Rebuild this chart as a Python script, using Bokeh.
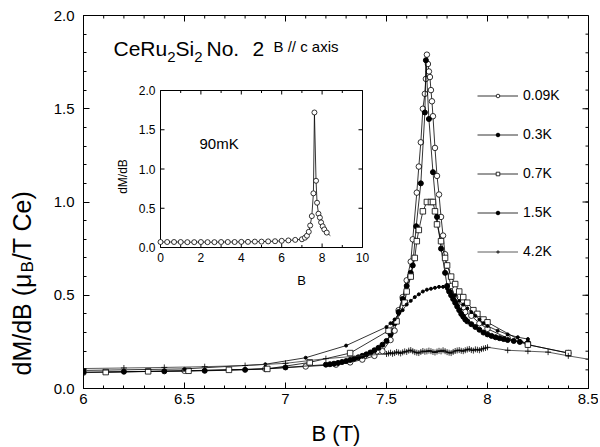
import numpy as np
from bokeh.plotting import figure
from bokeh.layouts import row
from bokeh.models import Range1d, FixedTicker, Label, Legend, LegendItem
from bokeh.core.properties import value
from bokeh.embed import file_html
from bokeh.resources import INLINE

FONT = "Liberation Sans"

# ---------------- data ----------------
B_009 = [6.00, 6.50, 6.90, 7.10, 7.25, 7.32, 7.38, 7.44, 7.48, 7.52, 7.54, 7.56, 7.58, 7.60, 7.62, 7.63,
         7.65, 7.66, 7.67, 7.68, 7.69, 7.695, 7.70, 7.705, 7.71, 7.715, 7.72, 7.725, 7.73, 7.74, 7.75,
         7.76, 7.77, 7.78, 7.79, 7.80, 7.82, 7.84, 7.86, 7.89, 7.92, 7.96, 8.00, 8.10, 8.20, 8.40]
V_009 = [0.085, 0.095, 0.105, 0.118, 0.128, 0.14, 0.155, 0.175, 0.20, 0.26, 0.31, 0.42, 0.49, 0.58, 0.68, 0.80,
         1.05, 1.19, 1.32, 1.50, 1.58, 1.66, 1.79, 1.74, 1.70, 1.67, 1.60, 1.54, 1.46, 1.29, 1.14,
         1.04, 0.92, 0.82, 0.72, 0.63, 0.55, 0.49, 0.44, 0.41, 0.39, 0.35, 0.32, 0.27, 0.235, 0.19]

B_03 = [6.00, 6.20, 6.40, 6.60, 6.80, 7.00, 7.20, 7.22, 7.24, 7.26, 7.28, 7.30, 7.32, 7.34, 7.36, 7.38,
        7.40, 7.42, 7.44, 7.46, 7.48, 7.50, 7.52, 7.54, 7.56, 7.58, 7.60, 7.62, 7.63, 7.647, 7.67,
        7.69, 7.695, 7.71, 7.73, 7.75, 7.77, 7.79, 7.80, 7.81, 7.82, 7.83, 7.84, 7.85, 7.86, 7.87,
        7.88, 7.89, 7.90, 7.92, 7.94, 7.96, 7.98, 8.00, 8.02, 8.04, 8.06, 8.08, 8.10, 8.13, 8.16, 8.20]
V_03 = [0.088, 0.090, 0.092, 0.095, 0.100, 0.113, 0.128, 0.130, 0.133, 0.137, 0.142, 0.147, 0.153, 0.160, 0.167, 0.175,
        0.183, 0.193, 0.205, 0.218, 0.235, 0.255, 0.29, 0.35, 0.41, 0.48, 0.55, 0.62, 0.66, 0.87, 1.10,
        1.48, 1.76, 1.445, 1.16, 0.92, 0.75, 0.62, 0.55, 0.52, 0.50, 0.48, 0.46, 0.44, 0.42, 0.40,
        0.385, 0.37, 0.36, 0.345, 0.33, 0.315, 0.30, 0.29, 0.282, 0.275, 0.27, 0.265, 0.26, 0.255, 0.25, 0.245]

B_07 = [6.11, 6.32, 6.52, 6.72, 6.91, 7.12, 7.32, 7.51, 7.55, 7.59, 7.60, 7.62, 7.64, 7.65, 7.66, 7.68,
        7.70, 7.72, 7.73, 7.74, 7.75, 7.77, 7.79, 7.80, 7.82, 7.84, 7.86, 7.88, 7.90, 7.93, 7.95, 7.98,
        8.00, 8.20, 8.40]
V_07 = [0.088, 0.092, 0.095, 0.10, 0.105, 0.14, 0.19, 0.31, 0.36, 0.46, 0.52, 0.60, 0.70, 0.79, 0.85, 0.95,
        1.00, 1.00, 1.00, 0.95, 0.88, 0.79, 0.70, 0.66, 0.60, 0.56, 0.52, 0.49, 0.46, 0.42, 0.40, 0.37,
        0.355, 0.235, 0.19]

B_15 = [6.00, 6.50, 6.90, 7.10, 7.30, 7.50, 7.52, 7.54, 7.56, 7.58, 7.60, 7.62, 7.64, 7.66, 7.68, 7.70,
        7.72, 7.74, 7.76, 7.78, 7.80, 7.82, 7.84, 7.86, 7.88, 7.90, 7.92, 7.94, 7.96, 7.98, 8.00, 8.05,
        8.10, 8.15, 8.20]
V_15 = [0.097, 0.105, 0.13, 0.165, 0.23, 0.33, 0.35, 0.37, 0.40, 0.42, 0.45, 0.47, 0.49, 0.505, 0.52, 0.53,
        0.535, 0.54, 0.545, 0.545, 0.535, 0.52, 0.50, 0.47, 0.45, 0.43, 0.41, 0.39, 0.37, 0.35, 0.335, 0.31,
        0.29, 0.275, 0.265]

B_42 = [6.00, 6.20, 6.40, 6.60, 6.80, 7.00, 7.20, 7.40, 7.50, 7.51, 7.52, 7.53, 7.54, 7.55, 7.56, 7.57,
        7.58, 7.59, 7.60, 7.61, 7.62, 7.63, 7.64, 7.65, 7.66, 7.67, 7.68, 7.69, 7.70, 7.71, 7.72, 7.73,
        7.74, 7.75, 7.76, 7.77, 7.78, 7.79, 7.80, 7.81, 7.82, 7.83, 7.84, 7.85, 7.86, 7.87, 7.88, 7.89,
        7.90, 7.91, 7.92, 7.93, 7.94, 7.95, 7.96, 7.97, 7.98, 7.99, 8.00, 8.10, 8.20, 8.30, 8.40, 8.50]
V_42 = [0.107, 0.110, 0.113, 0.117, 0.123, 0.135, 0.160, 0.178, 0.185, 0.188, 0.192, 0.186, 0.190, 0.196, 0.193, 0.188,
        0.194, 0.199, 0.196, 0.203, 0.206, 0.200, 0.195, 0.192, 0.190, 0.196, 0.201, 0.197, 0.199, 0.203, 0.200, 0.196,
        0.193, 0.198, 0.202, 0.199, 0.205, 0.200, 0.195, 0.192, 0.190, 0.196, 0.201, 0.204, 0.206, 0.202, 0.200, 0.205,
        0.209, 0.212, 0.206, 0.203, 0.210, 0.208, 0.205, 0.211, 0.214, 0.217, 0.221, 0.205, 0.200, 0.195, 0.175, 0.157]

B_INSET = [0.0, 0.33, 0.67, 1.0, 1.33, 1.67, 2.0, 2.33, 2.67, 3.0, 3.33, 3.67, 4.0, 4.33, 4.67, 5.0, 5.33,
           5.67, 6.0, 6.33, 6.67, 7.0, 7.15, 7.25, 7.34, 7.41, 7.49, 7.57, 7.62, 7.70, 7.75, 7.82, 7.89,
           7.95, 8.03, 8.11, 8.23, 8.41]
V_INSET = [0.07, 0.07, 0.07, 0.07, 0.068, 0.068, 0.07, 0.068, 0.068, 0.07, 0.07, 0.07, 0.072, 0.072, 0.075, 0.075, 0.078,
           0.08, 0.085, 0.09, 0.097, 0.105, 0.125, 0.15, 0.20, 0.28, 0.40, 0.69, 1.72, 0.85, 0.57, 0.43, 0.38,
           0.32, 0.27, 0.23, 0.19, 0.15]

SERIES_LABELS = ["0.09K", "0.3K", "0.7K", "1.5K", "4.2K"]

X_TICKS = [6.0, 6.5, 7.0, 7.5, 8.0, 8.5]
X_TICK_LABELS = ["6", "6.5", "7", "7.5", "8", "8.5"]
Y_TICKS = [0.0, 0.5, 1.0, 1.5, 2.0]
Y_TICK_LABELS = ["0.0", "0.5", "1.0", "1.5", "2.0"]

INSET_X_TICKS = [0, 2, 4, 6, 8, 10]
INSET_X_LABELS = ["0", "2", "4", "6", "8", "10"]
INSET_X_MINOR = [1, 3, 5, 7, 9]
INSET_Y_TICKS = [0.0, 0.5, 1.0, 1.5, 2.0]
INSET_Y_LABELS = ["0.0", "0.5", "1.0", "1.5", "2.0"]

# ---------------- layout constants ----------------
LABW = 40                 # width of the strip holding the rotated y label
FW, FH = 505, 373         # main frame
BL, BR, BT, BB = 43, 10, 15, 55
TOTAL_H = BT + FH + BB
# inset frame in main-frame pixel coordinates (from left / from top)
IL, IR, IT, IB = 77, 279, 75, 232

AW = {' ': 278, '(': 333, ')': 333, '.': 278, '/': 278, 'B': 667, 'C': 722, 'K': 667, 'M': 833,
      'N': 722, 'R': 722, 'S': 667, 'T': 611, 'a': 556, 'c': 500, 'd': 556, 'e': 556, 'i': 222,
      'm': 833, 'o': 556, 's': 500, 'u': 556, 'x': 500, 'μ': 576}


def tw(s, size):
    return sum(AW.get(c, 556) for c in s) * size / 1000.0


p = figure(frame_width=FW, frame_height=FH, x_range=Range1d(6, 8.5), y_range=Range1d(0, 2.0),
           output_backend="svg", toolbar_location=None,
           min_border_left=BL, min_border_right=BR, min_border_top=BT, min_border_bottom=BB)
p.background_fill_color = "white"
p.border_fill_color = "white"
p.grid.visible = False
p.outline_line_color = "black"
p.outline_line_width = 1

x_minor = [round(v, 2) for v in np.arange(6.0, 8.501, 0.1)]
y_minor = [round(v, 2) for v in np.arange(0.0, 2.001, 0.1)]


def style_axis(ax, ticks, minor, labels):
    ax.ticker = FixedTicker(ticks=ticks, minor_ticks=minor)
    ax.major_tick_in = 6
    ax.major_tick_out = 0
    ax.minor_tick_in = 3
    ax.minor_tick_out = 0
    ax.axis_line_color = "black"
    ax.major_tick_line_color = "black"
    ax.minor_tick_line_color = "black"
    ax.major_label_overrides = {t: l for t, l in zip(ticks, labels)}
    ax.major_label_text_font = FONT
    ax.major_label_text_font_size = "15px"
    ax.major_label_text_color = "black"


xa = p.xaxis[0]
ya = p.yaxis[0]
style_axis(xa, X_TICKS, x_minor, X_TICK_LABELS)
style_axis(ya, Y_TICKS, y_minor, Y_TICK_LABELS)
xa.major_label_standoff = 5
ya.major_label_standoff = 9
xa.axis_label = "B (T)"
xa.axis_label_text_font = FONT
xa.axis_label_text_font_size = "22px"
xa.axis_label_text_font_style = "normal"
xa.axis_label_text_color = "black"
xa.axis_label_standoff = 14

# mirrored ticks on top and right edges (inward)
kmx = FW / 2.5
kmy = FH / 2.0
p.segment(x0=X_TICKS, y0=[2.0] * len(X_TICKS), x1=X_TICKS, y1=[2.0 - 6 / kmy] * len(X_TICKS), line_color="black")
p.segment(x0=x_minor, y0=[2.0] * len(x_minor), x1=x_minor, y1=[2.0 - 3 / kmy] * len(x_minor), line_color="black")
p.segment(x0=[8.5] * len(Y_TICKS), y0=Y_TICKS, x1=[8.5 - 6 / kmx] * len(Y_TICKS), y1=Y_TICKS, line_color="black")
p.segment(x0=[8.5] * len(y_minor), y0=y_minor, x1=[8.5 - 3 / kmx] * len(y_minor), y1=y_minor, line_color="black")

# ---------------- main data ----------------
LW = 0.8
r_l1 = p.line(B_009, V_009, line_color="black", line_width=LW)
r_s1 = p.scatter(B_009, V_009, marker="circle", size=5.5, fill_color="white", line_color="black", line_width=0.8)
r_l2 = p.line(B_03, V_03, line_color="black", line_width=LW)
r_s2 = p.scatter(B_03, V_03, marker="circle", size=5, fill_color="black", line_color="black")
r_l3 = p.line(B_07, V_07, line_color="black", line_width=LW)
r_s3 = p.scatter(B_07, V_07, marker="square", size=5.5, fill_color="white", line_color="black", line_width=0.8)
r_l4 = p.line(B_15, V_15, line_color="black", line_width=LW)
r_s4 = p.scatter(B_15, V_15, marker="circle", size=3, fill_color="black", line_color="black")
r_l5 = p.line(B_42, V_42, line_color="#333333", line_width=LW)
r_s5 = p.scatter(B_42, V_42, marker="cross", size=6, line_color="black", line_width=0.8)

# ---------------- inset (own ranges mapped onto a sub-box of the frame) ----------------
kx = (IR - IL) / 10.0
ky = (IB - IT) / 2.0
p.extra_x_ranges = {"ix": Range1d(0 - IL / kx, 10 + (FW - IR) / kx)}
p.extra_y_ranges = {"iy": Range1d(0 - (FH - IB) / ky, 2 + IT / ky)}
IX = dict(x_range_name="ix", y_range_name="iy")

p.quad(left=[0], right=[10], bottom=[0], top=[2], fill_color="white", line_color="black", line_width=1, **IX)

tl, tlm = 4.0, 2.5
xt = INSET_X_TICKS
p.segment(x0=xt, y0=[0] * len(xt), x1=xt, y1=[tl / ky] * len(xt), line_color="black", **IX)
p.segment(x0=xt, y0=[2] * len(xt), x1=xt, y1=[2 - tl / ky] * len(xt), line_color="black", **IX)
xm = INSET_X_MINOR
p.segment(x0=xm, y0=[0] * len(xm), x1=xm, y1=[tlm / ky] * len(xm), line_color="black", **IX)
p.segment(x0=xm, y0=[2] * len(xm), x1=xm, y1=[2 - tlm / ky] * len(xm), line_color="black", **IX)
yt = INSET_Y_TICKS
p.segment(x0=[0] * len(yt), y0=yt, x1=[tl / kx] * len(yt), y1=yt, line_color="black", **IX)
p.segment(x0=[10] * len(yt), y0=yt, x1=[10 - tl / kx] * len(yt), y1=yt, line_color="black", **IX)

p.text(x=xt, y=[0] * len(xt), text=INSET_X_LABELS, text_font=value(FONT), text_font_size=value("12px"),
       text_align="center", text_baseline="top", y_offset=5, text_color="black", **IX)
p.text(x=[0] * len(yt), y=yt, text=INSET_Y_LABELS, text_font=value(FONT), text_font_size=value("12px"),
       text_align="right", text_baseline="middle", x_offset=-5, text_color="black", **IX)

p.line(B_INSET, V_INSET, line_color="black", line_width=0.8, **IX)
p.scatter(B_INSET[:-1], V_INSET[:-1], marker="circle", size=5, fill_color="white", line_color="black",
          line_width=0.8, **IX)


def lab(text, x, y, size, angle=0.0, align="left", baseline="alphabetic"):
    p.add_layout(Label(x=x, y=y, x_units="screen", y_units="screen", text=text, text_font=FONT,
                       text_font_size=size, text_color="black", angle=angle, text_align=align,
                       text_baseline=baseline))


# page-y -> frame-relative y (from frame bottom)
def fy(page_y):
    return BT + FH - page_y


def fx(page_x):
    return page_x - (LABW + BL)


# inset labels
lab("90mK", fx(199), fy(143), "15px")
lab("dM/dB", fx(122), fy(176), "12px", angle=np.pi / 2, align="center", baseline="middle")
lab("B", fx(301), fy(280), "13px", align="center", baseline="middle")

# title: CeRu2Si2 No. 2   B // c axis
F1, F1s = 21, 15
x0, y0, ys = fx(113), fy(48), fy(56)
parts = [("CeRu", F1, y0), ("2", F1s, ys), ("Si", F1, y0), ("2", F1s, ys)]
cx = x0
for t, s, yy in parts:
    lab(t, cx, yy, "%dpx" % s)
    cx += tw(t, s)
lab("No.", fx(206), y0, "%dpx" % F1)
lab("2", fx(252), y0, "%dpx" % F1)
lab("B // c axis", fx(273), fy(46), "15px")

# ---------------- legend ----------------
items = [LegendItem(label=value(SERIES_LABELS[0]), renderers=[r_l1, r_s1]),
         LegendItem(label=value(SERIES_LABELS[1]), renderers=[r_l2, r_s2]),
         LegendItem(label=value(SERIES_LABELS[2]), renderers=[r_l3, r_s3]),
         LegendItem(label=value(SERIES_LABELS[3]), renderers=[r_l4, r_s4]),
         LegendItem(label=value(SERIES_LABELS[4]), renderers=[r_l5, r_s5])]
legend = Legend(items=items, location=(394, 129), glyph_width=41, glyph_height=9, label_height=9,
                spacing=23, padding=0, margin=0, label_standoff=5, border_line_alpha=0,
                background_fill_alpha=0, label_text_font=FONT, label_text_font_size="14px",
                label_text_color="black")
p.add_layout(legend)

# ---------------- strip with the rotated y-axis title ----------------
q = figure(frame_width=LABW, frame_height=TOTAL_H, x_range=Range1d(0, LABW), y_range=Range1d(0, TOTAL_H),
           output_backend="svg", toolbar_location=None, x_axis_type=None, y_axis_type=None,
           min_border=0)
q.grid.visible = False
q.outline_line_color = None
q.background_fill_color = "white"
q.border_fill_color = "white"

FY, FYs = 25, 17
yx = 21
ystart = TOTAL_H - 360
p1, p2, p3 = "dM/dB (μ", "B", "/T Ce)"
q.text(x=[yx], y=[ystart], text=[p1], angle=np.pi / 2, text_font=value(FONT), text_font_size=value("%dpx" % FY),
       text_align="left", text_baseline="middle", text_color="black")
q.text(x=[yx + 6], y=[ystart + tw(p1, FY) + 1], text=[p2], angle=np.pi / 2, text_font=value(FONT),
       text_font_size=value("%dpx" % FYs), text_align="left", text_baseline="middle", text_color="black")
q.text(x=[yx], y=[ystart + tw(p1, FY) + tw(p2, FYs) + 2], text=[p3], angle=np.pi / 2, text_font=value(FONT),
       text_font_size=value("%dpx" % FY), text_align="left", text_baseline="middle", text_color="black")

layout = row(q, p, spacing=0)
open("out.html", "w").write(file_html(layout, INLINE))
